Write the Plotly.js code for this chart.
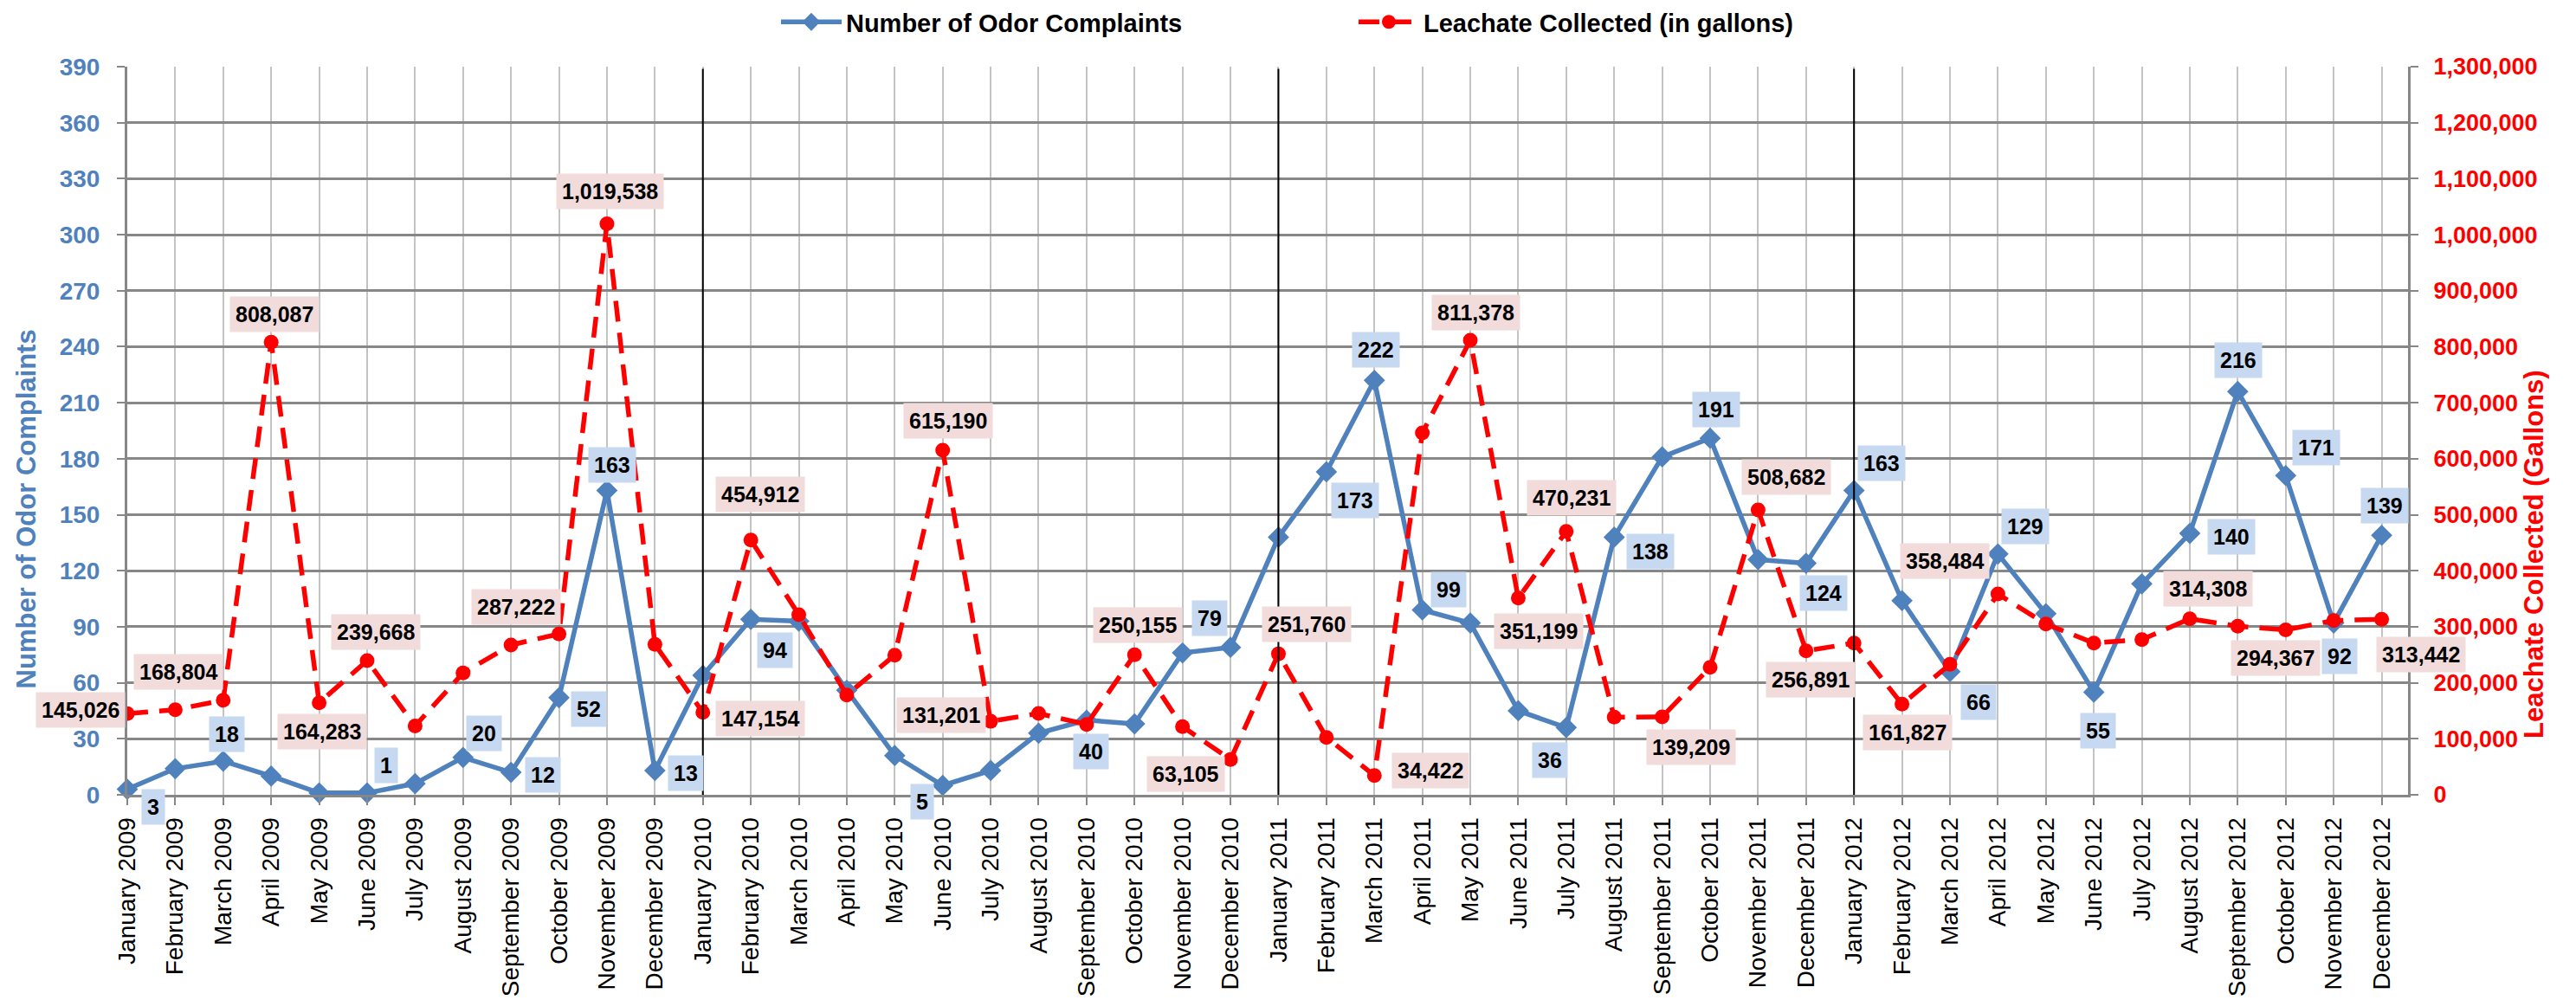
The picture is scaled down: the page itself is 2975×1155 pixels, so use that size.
<!DOCTYPE html>
<html>
<head>
<meta charset="utf-8">
<script src="https://cdn.plot.ly/plotly-3.0.1.min.js"></script>
<style>html,body{margin:0;padding:0;background:#fff;}#chart{width:2975px;height:1155px;}</style>
</head>
<body>
<div id="chart"></div>
<script>
// ---------- DATA ----------
const monthNames = ["January","February","March","April","May","June","July","August","September","October","November","December"];
const years = [2009, 2010, 2011, 2012];
const months = years.flatMap(y => monthNames.map(m => m + " " + y));

const complaints = [3,14,18,10,1,1,6,20,12,52,163,13,
                    64,94,93,56,21,5,13,33,40,38,76,79,
                    138,173,222,99,92,45,36,138,181,191,126,124,
                    163,104,66,129,97,55,113,140,216,171,92,139];

const leachate = [145026,152000,168804,808087,164283,239668,123000,217500,267500,287222,1019538,268500,
                  147154,454912,321600,178300,249400,615190,131201,145300,125700,250155,121600,63105,
                  251760,102500,34422,646200,811378,351199,470231,138600,139209,227700,508682,256891,
                  271000,161827,233000,358484,305000,271000,277200,314308,301000,294367,311200,313442];

const complaintsLabeled = [0,2,5,7,8,9,10,11,13,17,20,23,25,26,27,30,31,33,35,36,38,39,41,43,44,45,46,47];
const leachateLabeled = [0,2,3,4,5,9,10,12,13,17,18,21,23,24,26,28,29,30,32,34,35,37,39,43,45,47];

// ---------- STYLE (label placement offsets in px) ----------
const complaintsLabelOffset = [[30,20],[4,-31],[22,-32],[24,-28],[37,3],[34,13],[6,-30],[36,3],[28,36],[-24,19],
  [5,36],[-24,-34],[33,33],[2,-35],[30,-24],[-19,38],[42,17],[7,-33],[20,34],[32,-32],[33,35],[32,-32],[5,45],
  [48,4],[1,-36],[35,-32],[7,38],[3,-34]];
const leachateLabelOffset = [[-54,-4],[-52,-33],[4,-32],[3,33],[10,-33],[-50,-31],[4,-37],[66,7],[11,-53],[6,-34],
  [-57,-7],[4,-34],[-52,17],[33,-34],[65,-6],[6,-32],[24,38],[6,-39],[33,35],[33,-38],[5,33],[6,33],[-61,-38],
  [21,-35],[-12,32],[45,41]];

const FONT = "Liberation Sans, Arial, Helvetica, sans-serif";
const BLUE = "#4f81bd";
const RED = "#ff0000";

const traces = [
  {
    x: months, y: complaints, name: "Number of Odor Complaints", type: "scatter", mode: "lines+markers",
    line: {color: BLUE, width: 5.5},
    marker: {symbol: "diamond", size: 19, color: BLUE},
    cliponaxis: false, yaxis: "y"
  },
  {
    x: months, y: leachate, name: "Leachate Collected (in gallons)", type: "scatter", mode: "lines+markers",
    line: {color: RED, width: 5.5, dash: "24px,13px"},
    marker: {symbol: "circle", size: 17, color: RED},
    cliponaxis: false, yaxis: "y2"
  }
];

const annotations = [];
complaintsLabeled.forEach((i, k) => {
  const [dx, dy] = complaintsLabelOffset[k];
  annotations.push({
    x: months[i], y: complaints[i], xref: "x", yref: "y", text: String(complaints[i]),
    showarrow: false, xanchor: "center", yanchor: "middle", xshift: dx, yshift: -dy,
    bgcolor: "#c6d9f1", borderpad: 6,
    font: {family: FONT, size: 25, color: "#000", weight: "bold"}
  });
});
leachateLabeled.forEach((i, k) => {
  const [dx, dy] = leachateLabelOffset[k];
  annotations.push({
    x: months[i], y: leachate[i], xref: "x", yref: "y2", text: leachate[i].toLocaleString("en-US"),
    showarrow: false, xanchor: "center", yanchor: "middle", xshift: dx, yshift: -dy,
    bgcolor: "#f2dcdb", borderpad: 6,
    font: {family: FONT, size: 25, color: "#000", weight: "bold"}
  });
});
// axis titles
annotations.push({
  text: "Number of Odor Complaints", xref: "paper", yref: "paper", x: -0.0444, y: 0.392,
  textangle: -90, showarrow: false, xanchor: "center", yanchor: "middle",
  font: {family: FONT, size: 31, color: BLUE, weight: "bold"}
});
annotations.push({
  text: "Leachate Collected (Gallons)", xref: "paper", yref: "paper", x: 1.0554, y: 0.3306,
  textangle: -90, showarrow: false, xanchor: "center", yanchor: "middle",
  font: {family: FONT, size: 31, color: RED, weight: "bold"}
});

// year separator lines
const shapes = months.map((m, i) => ({m, i})).filter(o => o.i > 0 && o.m.startsWith("January")).map(o => ({
  type: "line", xref: "x", yref: "paper", x0: o.m, x1: o.m, y0: 0, y1: 0.997,
  line: {color: "#000", width: 2}, layer: "above"
}));

const layout = {
  width: 2975, height: 1155,
  margin: {l: 147, r: 194, t: 77, b: 237},
  paper_bgcolor: "#fff", plot_bgcolor: "#fff",
  font: {family: FONT, color: "#000"},
  showlegend: true,
  legend: {
    orientation: "h", xref: "container", yref: "container", x: 0.3015, y: 0.978,
    xanchor: "left", yanchor: "middle", entrywidth: 582, entrywidthmode: "pixels", itemwidth: 70,
    font: {family: FONT, size: 29, color: "#000", weight: "bold"}, bgcolor: "rgba(0,0,0,0)"
  },
  xaxis: {
    type: "category", range: [0, 47.55], tickangle: -90,
    tickfont: {family: FONT, size: 28, color: "#000"},
    showgrid: true, gridcolor: "#c4c4c4", gridwidth: 2,
    showline: true, linecolor: "#878787", linewidth: 3,
    ticks: "outside", ticklen: 9, tickcolor: "#878787", tickwidth: 2,
    ticklabelstandoff: 3, zeroline: false, fixedrange: true
  },
  yaxis: {
    range: [0, 390], dtick: 30, tick0: 0,
    tickfont: {family: FONT, size: 28, color: BLUE, weight: "bold"},
    showgrid: true, gridcolor: "#878787", gridwidth: 3,
    showline: true, linecolor: "#878787", linewidth: 3,
    ticks: "outside", ticklen: 9, tickcolor: "#878787", tickwidth: 2,
    ticklabelstandoff: 14, zeroline: false
  },
  yaxis2: {
    range: [0, 1300000], dtick: 100000, tick0: 0, overlaying: "y", side: "right",
    tickformat: ",d",
    tickfont: {family: FONT, size: 27, color: RED, weight: "bold"},
    showgrid: false, showline: true, linecolor: "#878787", linewidth: 3,
    ticks: "outside", ticklen: 9, tickcolor: "#878787", tickwidth: 2,
    ticklabelstandoff: 12, zeroline: false
  },
  annotations: annotations,
  shapes: shapes
};

Plotly.newPlot("chart", traces, layout, {displayModeBar: false, staticPlot: true});
</script>
</body>
</html>
